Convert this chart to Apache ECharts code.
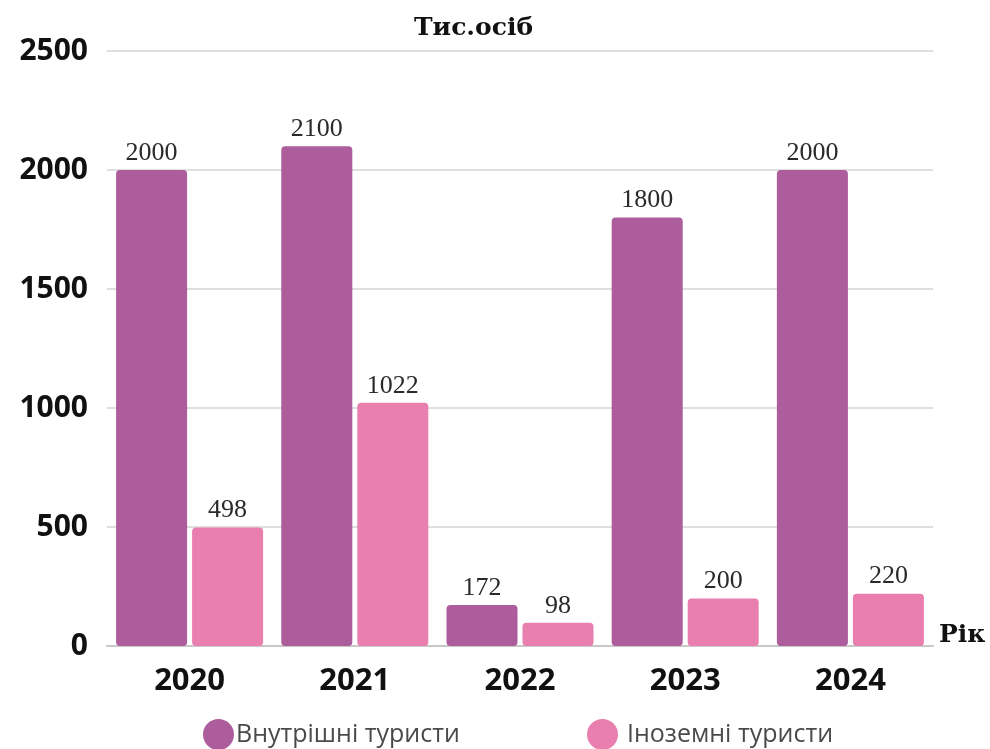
<!DOCTYPE html>
<html><head><meta charset="utf-8">
<script src="https://cdn.jsdelivr.net/npm/echarts@6/dist/echarts.min.js"></script>
<style>html,body{margin:0;padding:0;background:#fff}#c{width:990px;height:749px}</style>
</head><body><div id="c"></div>
<script>
const categories = ['2020','2021','2022','2023','2024'];
const domestic = [2000, 2100, 172, 1800, 2000];
const foreign = [498, 1022, 98, 200, 220];
const seriesNames = ['Внутрішні туристи', 'Іноземні туристи'];
const yTicks = [0, 500, 1000, 1500, 2000, 2500];

const chart = echarts.init(document.getElementById('c'));
const labelStyle = {show:true, position:'top', distance:4, fontFamily:'Liberation Serif', fontSize:26, color:'#2a2a2a'};
chart.setOption({
  animation:false,
  grid:{left:107, right:57, top:51, bottom:103},
  graphic:[
    {type:'text', left:414, top:16, style:{text:'Тис.осіб', font:'bold 25px "DejaVu Serif"', fill:'#111'}},
    {type:'text', left:939, top:623, style:{text:'Рік', font:'bold 25px "DejaVu Serif"', fill:'#111'}}
  ],
  legend:[
    {data:[seriesNames[0]], left:198, top:714, icon:'circle', itemWidth:31, itemHeight:31, itemGap:0,
     textStyle:{fontFamily:'Open Sans', fontSize:25, color:'#4a4a4a', padding:[0,0,0,-3]}},
    {data:[seriesNames[1]], left:582, top:714, icon:'circle', itemWidth:31, itemHeight:31, itemGap:0,
     textStyle:{fontFamily:'Open Sans', fontSize:25, color:'#4a4a4a', padding:[0,0,0,4]}}
  ],
  xAxis:{type:'category', data:categories,
    axisLine:{lineStyle:{color:'#c8c8c8', width:2}}, axisTick:{show:false},
    axisLabel:{margin:20, fontFamily:'Open Sans', fontWeight:'bold', fontSize:31, color:'#111'}},
  yAxis:{type:'value', min:yTicks[0], max:yTicks[yTicks.length-1], interval:500,
    axisLabel:{margin:19, fontFamily:'Open Sans', fontWeight:'bold', fontSize:30, color:'#111',
      formatter:v=>String(v)},
    splitLine:{lineStyle:{color:'#d5d5d5', width:1.5}}},
  series:[
    {name:seriesNames[0], type:'bar', data:domestic, barGap:'7%', barCategoryGap:'11%',
     itemStyle:{color:'#ad5d9b', borderRadius:4}, label:labelStyle},
    {name:seriesNames[1], type:'bar', data:foreign,
     itemStyle:{color:'#e87fae', borderRadius:4}, label:labelStyle}
  ]
});
</script></body></html>
